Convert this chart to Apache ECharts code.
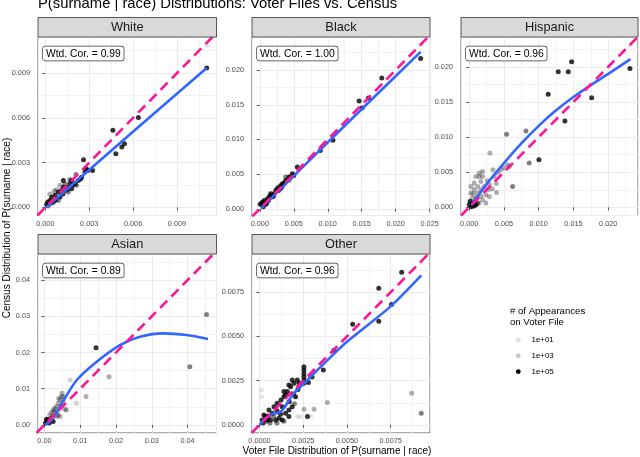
<!DOCTYPE html>
<html>
<head>
<meta charset="utf-8">
<script src="https://cdn.jsdelivr.net/npm/echarts@6/dist/echarts.min.js"></script>
<style>
html, body { margin: 0; padding: 0; background: #fff; }
#chart { width: 640px; height: 457px; }
</style>
</head>
<body>
<div id="chart"></div>
<script>
"use strict";
// facet names and the weighted correlation printed in each panel
var panelNames = ["White", "Black", "Hispanic", "Asian", "Other"];
var wtdCor = ["0.99", "1.00", "0.96", "0.89", "0.96"];

// points: [voter file share, census share, appearance level 1 (~1e+01) .. 5 (~1e+05)]
var whitePts = [
  [0.01107, 0.01087, 1], [0.01103, 0.00935, 5], [0.00636, 0.00602, 5], [0.00462, 0.00517, 5],
  [0.00541, 0.00427, 5], [0.00523, 0.00405, 5], [0.00482, 0.0036, 5], [0.00261, 0.0032, 5],
  [0.00323, 0.00248, 5], [0.00289, 0.00248, 5], [0.00271, 0.00237, 5], [0.00248, 0.00203, 5],
  [0.00225, 0.00181, 5], [0.0018, 0.00181, 5], [0.00168, 0.00159, 5], [0.00203, 0.00159, 5],
  [0.00213, 0.00148, 4], [0.0018, 0.00125, 5], [0.00157, 0.00103, 4], [0.00145, 0.00136, 5],
  [0.00123, 0.00136, 5], [0.00134, 0.00159, 4], [0.00111, 0.00114, 5], [0.001, 0.00148, 3],
  [0.00089, 0.00103, 5], [0.00077, 0.00119, 3], [0.00066, 0.00081, 5], [0.00043, 0.00069, 5],
  [0.00032, 0.00047, 5], [0.00016, 0.00036, 5], [0.00009, 0.0002, 5], [0.00055, 0.00036, 5],
  [0.00089, 0.00047, 4], [0.00168, 0.00186, 4], [0.00123, 0.0018, 5], [0.0006, 0.0011, 3],
  [0.0003, 0.0009, 3], [0.0015, 0.0012, 5], [0.0019, 0.0015, 5], [0.0024, 0.0019, 5],
  [0.0021, 0.0022, 4], [0.0028, 0.0026, 5], [0.0007, 0.0005, 5], [0.0012, 0.0009, 5],
  [0.0004, 0.0003, 5], [0.0002, 0.0001, 4], [0.001, 0.0007, 5], [0.0013, 0.0011, 5]
];
var blackPts = [
  [0.02367, 0.0236, 1], [0.02367, 0.02168, 5], [0.01795, 0.01887, 5], [0.01462, 0.01555, 5],
  [0.01506, 0.01454, 5], [0.01598, 0.01598, 5], [0.01076, 0.00987, 5], [0.0089, 0.00842, 5],
  [0.00553, 0.00601, 5], [0.00479, 0.00506, 5], [0.00455, 0.00457, 5], [0.00431, 0.00457, 5],
  [0.00406, 0.00419, 5], [0.00381, 0.00409, 5], [0.00381, 0.00457, 4], [0.00358, 0.0037, 5],
  [0.00333, 0.00361, 5], [0.00323, 0.00312, 5], [0.00308, 0.00337, 5], [0.00284, 0.00289, 5],
  [0.00274, 0.00264, 5], [0.00259, 0.00289, 5], [0.00235, 0.00264, 5], [0.00211, 0.00217, 5],
  [0.00186, 0.00192, 5], [0.00176, 0.00168, 5], [0.00161, 0.00217, 5], [0.00138, 0.00168, 5],
  [0.00128, 0.0012, 5], [0.00113, 0.00145, 5], [0.00088, 0.00072, 5], [0.00079, 0.00062, 5],
  [0.00064, 0.0012, 5], [0.0004, 0.00095, 5], [0.00015, 0.00072, 5], [0.0, 0.00062, 4],
  [0.0005, 0.0003, 5], [0.001, 0.0008, 5], [0.002, 0.0018, 5], [0.003, 0.0029, 5],
  [0.0043, 0.0041, 4], [0.005, 0.0048, 5], [0.0027, 0.0031, 4], [0.0015, 0.0019, 4],
  [0.0007, 0.001, 3]
];
var hispanicPts = [
  [0.02312, 0.02308, 1], [0.02312, 0.01977, 5], [0.01473, 0.02071, 5], [0.01281, 0.01929, 5],
  [0.01425, 0.01929, 5], [0.01137, 0.01608, 5], [0.01761, 0.0156, 5], [0.01377, 0.0123, 5],
  [0.00816, 0.01088, 4], [0.00538, 0.01041, 4], [0.01003, 0.00677, 5], [0.00863, 0.0063, 4],
  [0.00298, 0.00772, 3], [0.00624, 0.00298, 4], [0.00394, 0.00213, 3], [0.00553, 0.00606, 3],
  [0.00576, 0.00582, 3], [0.00504, 0.00559, 3], [0.00456, 0.00535, 3], [0.00413, 0.00488, 3],
  [0.0036, 0.0044, 3], [0.00341, 0.00535, 3], [0.00294, 0.00322, 3], [0.00269, 0.00251, 3],
  [0.0024, 0.0018, 3], [0.00216, 0.00298, 3], [0.00193, 0.0044, 3], [0.00193, 0.0051, 3],
  [0.00168, 0.00369, 3], [0.00168, 0.00251, 3], [0.00144, 0.0044, 3], [0.00144, 0.00488, 3],
  [0.00121, 0.00298, 3], [0.00121, 0.00204, 3], [0.00096, 0.0044, 3], [0.00072, 0.00346, 3],
  [0.00072, 0.00251, 3], [0.00024, 0.00298, 3], [0.00024, 0.00204, 3], [0.00049, 0.00133, 3],
  [0.00096, 0.00109, 3], [0.00144, 0.00062, 3], [0.00193, 0.00109, 3], [0.0024, 0.00062, 3],
  [0.0029, 0.0015, 3], [0.0033, 0.0026, 3], [0.0039, 0.0034, 3], [0.0026, 0.0038, 3],
  [0.0017, 0.0016, 3], [0.0011, 0.0014, 3], [0.0006, 0.0019, 3], [0.00014, 0.00085, 5],
  [0.00049, 0.00062, 5], [0.00096, 0.00038, 5], [0.0, 0.00038, 5], [0.0007, 0.0002, 5],
  [0.0003, 0.0001, 5], [0.0012, 0.0006, 4]
];
var asianPts = [
  [0.0453, 0.04505, 1], [0.0453, 0.03053, 4], [0.04064, 0.01609, 4], [0.01442, 0.02133, 5],
  [0.01805, 0.01333, 3], [0.01163, 0.00781, 3], [0.00893, 0.00598, 2], [0.00717, 0.01241, 2],
  [0.00474, 0.00782, 3], [0.0043, 0.0069, 3], [0.00382, 0.00598, 3], [0.00335, 0.00506, 3],
  [0.0029, 0.00461, 3], [0.00243, 0.00414, 3], [0.00195, 0.0034, 3], [0.00151, 0.00276, 3],
  [0.00522, 0.00643, 3], [0.00569, 0.00433, 3], [0.00614, 0.00414, 3], [0.0043, 0.00229, 3],
  [0.00382, 0.00276, 3], [0.00335, 0.00229, 3], [0.00458, 0.00524, 3], [0.00494, 0.00875, 3],
  [0.00402, 0.00737, 3], [0.00271, 0.00367, 3], [0.0035, 0.0035, 3], [0.0025, 0.0025, 3],
  [0.002, 0.002, 3], [0.0053, 0.0078, 3], [0.00103, 0.00138, 5], [0.00056, 0.00157, 5],
  [0.00151, 0.00119, 5], [0.00243, 0.00091, 5], [0.00195, 0.00185, 4], [0.00084, 0.00091, 5],
  [0.0003, 0.0005, 5], [0.0013, 0.0005, 5]
];
var otherPts = [
  [0.00921, 0.00919, 1], [0.00813, 0.00863, 5], [0.00682, 0.00773, 5], [0.00755, 0.0068, 5],
  [0.00682, 0.00586, 5], [0.00533, 0.00569, 5], [0.00426, 0.00422, 5], [0.00365, 0.0031, 5],
  [0.00388, 0.00126, 3], [0.0087, 0.00179, 3], [0.00925, 0.00066, 4], [0.00011, 0.00197, 1],
  [0.00011, 0.00159, 1], [0.00216, 0.00047, 1], [0.00235, 0.00047, 1], [0.00292, 0.00047, 1],
  [0.00255, 0.00088, 3], [0.00312, 0.00088, 3], [0.00274, 0.00047, 5],
  [0.00254, 0.00328, 5], [0.00254, 0.0031, 5], [0.00254, 0.00291, 5], [0.00254, 0.00272, 5],
  [0.00254, 0.00253, 5], [0.00254, 0.00235, 5], [0.00187, 0.00253, 5], [0.00216, 0.00253, 5],
  [0.00226, 0.00235, 5], [0.00197, 0.00235, 5], [0.00168, 0.00225, 5], [0.0014, 0.00188, 5],
  [0.00159, 0.00188, 5], [0.00178, 0.00216, 5], [0.00149, 0.00169, 5], [0.00123, 0.00141, 5],
  [0.00187, 0.00103, 5], [0.00168, 0.00084, 5], [0.00149, 0.00066, 5], [0.00168, 0.00047, 5],
  [0.00111, 0.00038, 5], [0.00073, 0.00066, 5], [0.00054, 0.00084, 5], [0.00034, 0.00047, 5],
  [0.00015, 0.00028, 5], [0.00092, 0.00028, 5], [0.0013, 0.00028, 5], [0.00063, 0.00028, 5],
  [0.00083, 0.00103, 5], [0.00101, 0.00122, 5], [0.0013, 0.00103, 5], [0.0014, 0.00159, 5],
  [0.00206, 0.00159, 5], [0.00044, 0.00028, 5], [0.00025, 0.00056, 5], [0.0005, 0.0005, 5],
  [0.001, 0.0008, 5], [0.0012, 0.0006, 5], [0.0008, 0.0005, 4], [0.0004, 0.0002, 4],
  [0.0002, 0.0001, 5], [0.0006, 0.0001, 4], [0.001, 0.0001, 4], [0.0014, 0.0002, 4],
  [0.0017, 0.0013, 5], [0.0022, 0.002, 5], [0.002, 0.0012, 4], [0.003, 0.0027, 5],
  [0.0028, 0.0024, 5], [0.00195, 0.00175, 5]
];

// loess smooth
var whiteFit = [[0.00005, -0.00001], [0.0055, 0.00465], [0.01103, 0.00935]];
var blackFit = [[0.0002, 0.0001], [0.012, 0.0115], [0.02367, 0.02263]];
var hispanicFit = [[0.0003, 0.0003], [0.0025, 0.0033], [0.005, 0.0063], [0.0075, 0.0091], [0.01, 0.0116],
  [0.0125, 0.0138], [0.015, 0.0157], [0.0175, 0.0174], [0.02, 0.019], [0.0232, 0.0211]];
var asianFit = [[0.0002, 0.0], [0.00195, 0.00138], [0.00382, 0.00414], [0.00569, 0.00736], [0.00904, 0.01241],
  [0.01462, 0.01747], [0.02112, 0.02207], [0.02669, 0.02436], [0.0332, 0.0253], [0.03972, 0.02483], [0.04575, 0.02372]];
var otherFit = [[0.0, 0.0], [0.00034, 0.00038], [0.00073, 0.00062], [0.00111, 0.00069], [0.0014, 0.00094],
  [0.00169, 0.00141], [0.00206, 0.00188], [0.00255, 0.00235], [0.00424, 0.004], [0.005, 0.0047],
  [0.0075, 0.0067], [0.00925, 0.00845]];

var legendLabels = ["1e+01", "1e+03", "1e+05"];
var legendLevels = [1, 3, 5];

var allPts = [whitePts, blackPts, hispanicPts, asianPts, otherPts];
var allFits = [whiteFit, blackFit, hispanicFit, asianFit, otherFit];

// alpha used for each appearance level
var ALPHA = [0, 0.13, 0.22, 0.4, 0.62, 1];
var FONT = "Liberation Sans, Arial, sans-serif";

// panel layout and axis limits (ggplot free scales)
var panels = [
  {left: 38, top: 37, width: 178.5, height: 178.5, x: [-0.0005, 0.0117], y: [-0.00054, 0.01142], step: 0.003, dec: 3},
  {left: 252, top: 37, width: 178, height: 178.5, x: [-0.00115, 0.02505], y: [-0.00097, 0.02477], step: 0.005, dec: 3},
  {left: 461, top: 37, width: 177, height: 178.5, x: [-0.00118, 0.02428], y: [-0.00116, 0.02424], step: 0.005, dec: 3},
  {left: 38, top: 254, width: 178.5, height: 179, x: [-0.0018, 0.0481], y: [-0.00225, 0.04725], step: 0.01, dec: 2},
  {left: 252, top: 254, width: 178, height: 179, x: [-0.00043, 0.00975], y: [-0.00046, 0.00966], step: 0.0025, dec: 4}
];

function alphaColor(lvl) {
  return "rgba(0,0,0," + ALPHA[lvl] + ")";
}

function makeAxis(p, i, lim, isX) {
  return {
    type: "value",
    gridIndex: i,
    min: lim[0],
    max: lim[1],
    splitNumber: 5,
    minInterval: p.step,
    maxInterval: p.step,
    axisLine: {show: false},
    axisTick: {show: true, length: 3, lineStyle: {color: "#333", width: 0.8}},
    axisLabel: {
      fontSize: 7.3, color: "#4D4D4D", fontFamily: FONT,
      margin: isX ? 4.5 : 8,
      showMinLabel: false, showMaxLabel: false,
      formatter: function(v) { return v.toFixed(p.dec); }
    },
    splitLine: {show: true, lineStyle: {color: "#EBEBEB", width: 1}},
    minorTick: {show: false, splitNumber: 2},
    minorSplitLine: {show: true, lineStyle: {color: "#F2F2F2", width: 1}}
  };
}

var grids = [], xAxes = [], yAxes = [], series = [], graphics = [];

panels.forEach(function(p, i) {
  grids.push({
    left: p.left, top: p.top, width: p.width, height: p.height,
    show: true, borderColor: "#333", borderWidth: 0.8, backgroundColor: "transparent",
    containLabel: false, outerBoundsMode: "none"
  });
  xAxes.push(makeAxis(p, i, p.x, true));
  yAxes.push(makeAxis(p, i, p.y, false));

  series.push({
    type: "scatter",
    xAxisIndex: i, yAxisIndex: i,
    data: allPts[i],
    symbolSize: 5,
    silent: true,
    itemStyle: {
      color: function(params) { return alphaColor(params.value[2]); }
    },
    z: 2
  });
  series.push({
    type: "line",
    xAxisIndex: i, yAxisIndex: i,
    data: allFits[i],
    smooth: 0.25,
    symbol: "none",
    silent: true,
    lineStyle: {color: "#3366FF", width: 2.6},
    z: 3
  });
  var lo = Math.min(p.x[0], p.y[0]), hi = Math.max(p.x[1], p.y[1]);
  series.push({
    type: "line",
    xAxisIndex: i, yAxisIndex: i,
    data: [[lo, lo], [hi, hi]],
    symbol: "none",
    silent: true,
    clip: true,
    lineStyle: {color: "#FF1493", width: 2.6, type: [10, 6]},
    z: 4
  });

  // strip header
  graphics.push({
    type: "rect",
    shape: {x: p.left, y: p.top - 19.5, width: p.width, height: 19.5},
    style: {fill: "#D9D9D9", stroke: "#333", lineWidth: 0.8},
    z: 10
  });
  graphics.push({
    type: "text",
    x: p.left + p.width / 2, y: p.top - 9.5,
    style: {text: panelNames[i], fontSize: 12.8, fontFamily: FONT, fill: "#1A1A1A",
      align: "center", verticalAlign: "middle"},
    z: 11
  });
  // weighted correlation label
  graphics.push({
    type: "text",
    x: p.left + 5, y: p.top + 9.5,
    style: {text: "Wtd. Cor. = " + wtdCor[i], fontSize: 10.3, fontFamily: FONT, fill: "#000",
      align: "left", verticalAlign: "top",
      backgroundColor: "#fff", borderColor: "#333", borderWidth: 0.7, borderRadius: 2.5,
      padding: [2.5, 3, 1.5, 3]},
    z: 12
  });
});

// titles
graphics.push({
  type: "text", x: 38, y: 3.5,
  style: {text: "P(surname | race) Distributions: Voter Files vs. Census", fontSize: 14.8,
    fontFamily: FONT, fill: "#000", align: "left", verticalAlign: "middle"}
});
graphics.push({
  type: "text", x: 337, y: 451,
  style: {text: "Voter File Distribution of P(surname | race)", fontSize: 10,
    fontFamily: FONT, fill: "#000", align: "center", verticalAlign: "middle"}
});
graphics.push({
  type: "text", x: 7, y: 228, rotation: Math.PI / 2,
  style: {text: "Census Distribution of P(surname | race)", fontSize: 10,
    fontFamily: FONT, fill: "#000", align: "center", verticalAlign: "middle"}
});

// legend
graphics.push({
  type: "text", x: 510, y: 306,
  style: {text: "# of Appearances\non Voter File", fontSize: 9.6, lineHeight: 10.6,
    fontFamily: FONT, fill: "#000", align: "left", verticalAlign: "top"}
});
legendLabels.forEach(function(lab, k) {
  var cy = 340 + k * 15.8;
  graphics.push({
    type: "circle", shape: {cx: 518.3, cy: cy, r: 2.4},
    style: {fill: alphaColor(legendLevels[k] === 3 ? 2 : legendLevels[k])}
  });
  graphics.push({
    type: "text", x: 531.5, y: cy,
    style: {text: lab, fontSize: 7.9, fontFamily: FONT, fill: "#000",
      align: "left", verticalAlign: "middle"}
  });
});

var chart = echarts.init(document.getElementById("chart"), null, {renderer: "canvas"});
chart.setOption({
  animation: false,
  backgroundColor: "#fff",
  grid: grids,
  xAxis: xAxes,
  yAxis: yAxes,
  series: series,
  graphic: graphics
});
</script>
</body>
</html>
